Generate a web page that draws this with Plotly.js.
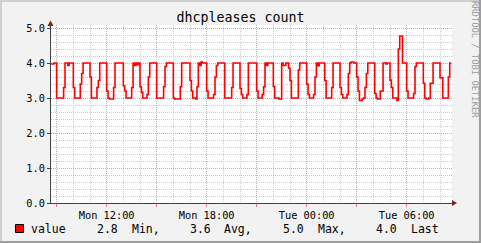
<!DOCTYPE html>
<html><head><meta charset="utf-8">
<script src="https://cdn.plot.ly/plotly-3.0.1.min.js"></script>
<style>html,body{margin:0;padding:0;background:#F2F2F2;overflow:hidden}#chart{width:481px;height:243px}</style>
</head><body><div id="chart"></div>
<script>
const chartTitle = 'dhcpleases count';
const seriesName = 'value';
const startUTC = Date.UTC(2024, 0, 1, 8, 40); // Mon 08:40, 5-minute samples
const stepMinutes = 5;
const values = [
  3.97,3.97,4,4,                                   // 08:40-08:55
  3,3,3,3,3,3.3,4,4,3.93,4,4,4,                     // 09
  3.3,3,3,3,3,3.4,3.7,4,4,4,4,4,                    // 10
  3.6,3,3,3,3,3.3,3.5,4,4,4,4,4,                    // 11
  3.2,3,2.97,2.97,2.97,3.3,4,4,4,4,4,4,             // 12
  3.35,3.2,3,3,3,3,3.3,4,3.93,4,3.95,4,             // 13
  3.32,3.16,3,3,3,3.1,3.6,4,4,4,4,4,                // 14
  3,3,3,3,3,3.32,3.9,4,4,4,4,4,                     // 15
  3,2.97,2.97,2.97,2.97,3.32,4,4,4,4,4,4,           // 16
  3.5,3.2,3,3,2.97,3.32,4,3.93,4.03,4,4,4,          // 17
  3.2,3,3,3,3,3.1,3.6,3.93,4,4,4,4,                 // 18
  4,3,3,3,3,3,3.3,4,4,4,4,4,                        // 19
  3.27,3.1,3,3,3,3.1,4,4,4,4,4,4,                   // 20
  3.2,3,3,3,3.1,3.32,4,3.93,4,4,4,4,                // 21
  3.33,3,3,3,2.97,2.97,4,3.93,3.93,4,4,3.85,        // 22
  3.5,3,3,3,3,3,3.8,4,4,4,4,4,                      // 23
  3.4,3.1,3,3,3,3.1,3.6,4,3.92,4,4,4,               // 00
  4,3.5,3,3,3,3,3.3,4,4,4,4,4,                      // 01
  3.3,3.1,3,3,3,3.1,3.7,4,4.03,4.03,4,4,            // 02
  3.6,3.2,2.93,2.93,2.97,3,3.3,3.7,4,4,4,4,         // 03
  4,3.13,3,2.97,2.97,3.2,3.2,4,4,3.97,4,4,          // 04
  3.51,3.3,3,3,3,2.93,4.4,4.77,4.77,4,4,4,          // 05
  3.2,3,3,3,3,3.13,3.9,4,4,4,4,4,                   // 06
  3.42,3,2.97,2.97,3,3.42,3.42,4,4,4,4,4,           // 07
  3.58,3.58,3,3,3,3,3.6,4                           // 08:00-08:35
];
const tickLabels = ['Mon 12:00', 'Mon 18:00', 'Tue 00:00', 'Tue 06:00'];
const tickTimesUTC = [Date.UTC(2024,0,1,12), Date.UTC(2024,0,1,18), Date.UTC(2024,0,2,0), Date.UTC(2024,0,2,6)];
const statNames = ['Min,', 'Avg,', 'Max,', 'Last'];
const statValues = [2.8, 3.6, 5.0, 4.0];
const watermark = 'RRDTOOL / TOBI OETIKER';

// ---- layout helpers (pixel -> paper) ----
const W = 481, H = 243, L = 51, R = 29, T = 25, B = 40;
const PW = W - L - R, PH = H - T - B;
const px = x => (x - L) / PW;
const py = y => (H - B - y) / PH;
const FONT = 'DejaVu Sans Mono, monospace';

const stepMs = stepMinutes * 60000;
const times = values.map((v, i) => startUTC + i * stepMs);
const xs = times.concat([times[times.length - 1] + stepMs]);
const ys = values.concat([values[values.length - 1]]);

// major grid every 3h, labelled every 6h
const majors = [];
for (let t = Date.UTC(2024,0,1,9); t <= Date.UTC(2024,0,2,8); t += 3 * 3600000) majors.push(t);
const majorText = majors.map(t => { const k = tickTimesUTC.indexOf(t); return k >= 0 ? tickLabels[k] : ''; });

const trace = {
  x: xs, y: ys, type: 'scatter', mode: 'lines', name: seriesName,
  line: {shape: 'hv', color: '#FF0000', width: 1.6}, hoverinfo: 'skip'
};

const majorGrid = '#EC9A9A', minorGrid = '#CDCDCD', dash = '1px,1px';
const axisCol = '#404040', arrowCol = '#7F2020';

const annotations = [
  {text: seriesName, x: px(29), y: py(229)},
];
const valX = [95, 187.5, 281, 373.5];
const nameX = [129.5, 222, 315.5, 408.5];
statValues.forEach((v, i) => {
  annotations.push({text: v.toFixed(1), x: px(valX[i]), y: py(229)});
  annotations.push({text: statNames[i], x: px(nameX[i]), y: py(229)});
});
annotations.forEach(a => Object.assign(a, {xref: 'paper', yref: 'paper', xanchor: 'left', yanchor: 'middle', showarrow: false, font: {family: FONT, size: 11.5, color: '#000'}}));
annotations.push({text: watermark, xref: 'paper', yref: 'paper', x: px(475), y: py(59), xanchor: 'center', yanchor: 'middle',
  showarrow: false, textangle: 90, font: {family: FONT, size: 8.8, color: '#9C9C9C'}});

const shapes = [
  // up arrow on y axis
  {type: 'path', xref: 'paper', yref: 'paper', path: `M ${px(47.5)} ${py(26)} L ${px(50.5)} ${py(20.5)} L ${px(53.5)} ${py(26)} Z`, fillcolor: arrowCol, line: {width: 0}},
  // right arrow on x axis
  {type: 'path', xref: 'paper', yref: 'paper', path: `M ${px(452)} ${py(200)} L ${px(457)} ${py(203)} L ${px(452)} ${py(206)} Z`, fillcolor: arrowCol, line: {width: 0}},
  // legend colour box
  {type: 'rect', xref: 'paper', yref: 'paper', x0: px(15.5), x1: px(23.5), y0: py(224.5), y1: py(232.5), fillcolor: '#FF0000', line: {color: '#000', width: 1}},
  // frame shading
  {type: 'rect', xref: 'paper', yref: 'paper', x0: px(0), x1: px(481), y0: py(0), y1: py(2), fillcolor: '#CFCFCF', line: {width: 0}},
  {type: 'rect', xref: 'paper', yref: 'paper', x0: px(0), x1: px(2), y0: py(0), y1: py(243), fillcolor: '#CFCFCF', line: {width: 0}},
  {type: 'rect', xref: 'paper', yref: 'paper', x0: px(0), x1: px(481), y0: py(241), y1: py(243), fillcolor: '#9E9E9E', line: {width: 0}},
  {type: 'rect', xref: 'paper', yref: 'paper', x0: px(479), x1: px(481), y0: py(0), y1: py(243), fillcolor: '#9E9E9E', line: {width: 0}}
];

const layout = {
  width: W, height: H,
  margin: {l: L, r: R, t: T, b: B, pad: 0},
  paper_bgcolor: '#F2F2F2', plot_bgcolor: '#FFFFFF',
  showlegend: false,
  title: {text: chartTitle, font: {family: FONT, size: 13.3, color: '#000'}, xref: 'container', x: 0.5, xanchor: 'center', yref: 'container', y: 1 - 17.5 / H, yanchor: 'middle'},
  xaxis: {
    type: 'date', range: [Date.UTC(2024,0,1,8,39,36), Date.UTC(2024,0,2,8,43,12)],
    tickmode: 'array', tickvals: majors, ticktext: majorText,
    showgrid: true, gridcolor: majorGrid, griddash: dash, gridwidth: 1,
    ticks: 'outside', ticklen: 3, tickcolor: '#E08080', tickwidth: 1,
    showline: true, linecolor: axisCol, linewidth: 1, zeroline: false,
    tickfont: {family: FONT, size: 10.3, color: '#000'},
    minor: {tickmode: 'linear', tick0: Date.UTC(2024,0,1,0), dtick: 3600000, showgrid: true, gridcolor: minorGrid, griddash: dash, gridwidth: 1, ticks: ''},
    fixedrange: true
  },
  yaxis: {
    range: [0, PH / 35], tickmode: 'linear', tick0: 0, dtick: 1, tickformat: '.1f',
    showgrid: true, gridcolor: majorGrid, griddash: dash, gridwidth: 1,
    ticks: 'outside', ticklen: 3, tickcolor: axisCol, tickwidth: 1,
    showline: true, linecolor: axisCol, linewidth: 1, zeroline: false,
    tickfont: {family: FONT, size: 10.3, color: '#000'},
    minor: {tickmode: 'linear', tick0: 0, dtick: 0.2, showgrid: true, gridcolor: minorGrid, griddash: dash, gridwidth: 1, ticks: ''},
    fixedrange: true
  },
  annotations: annotations,
  shapes: shapes
};

Plotly.newPlot('chart', [trace], layout, {displayModeBar: false, staticPlot: true});
</script></body></html>
